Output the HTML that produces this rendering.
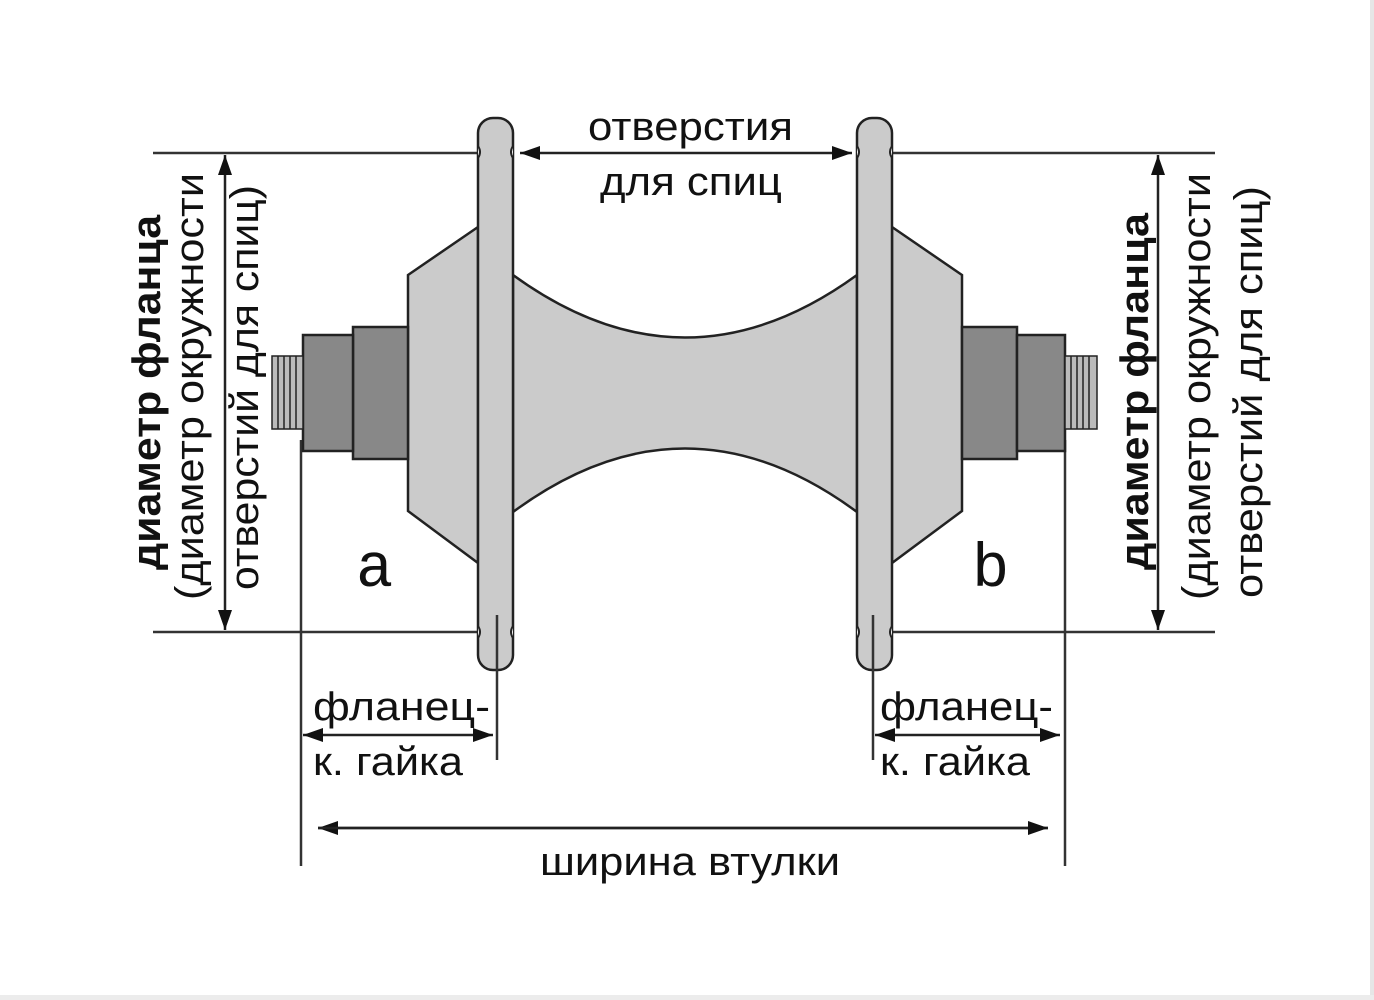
<!DOCTYPE html>
<html><head><meta charset="utf-8"><style>
html,body{margin:0;padding:0;background:#fff;}
svg{display:block;}
text{font-family:"Liberation Sans",sans-serif;fill:#111;}
</style></head><body>
<svg width="1374" height="1000" viewBox="0 0 1374 1000" xmlns="http://www.w3.org/2000/svg">
<rect x="0" y="0" width="1374" height="1000" fill="#fff"/>
<rect x="1370" y="0" width="4" height="1000" fill="#e6e6e6"/>
<rect x="0" y="995" width="1374" height="5" fill="#ececec"/>
<defs>
<marker id="ah" viewBox="0 0 20 14" refX="20" refY="7" markerWidth="20" markerHeight="14" markerUnits="userSpaceOnUse" orient="auto-start-reverse">
<path d="M0,0 L20,7 L0,14 Z" fill="#111"/>
</marker>
</defs>

<!-- extension lines -->
<g stroke="#333" stroke-width="2.5" fill="none">
<line x1="153" y1="153" x2="497" y2="153"/>
<line x1="153" y1="632" x2="497" y2="632"/>
<line x1="873" y1="153" x2="1215" y2="153"/>
<line x1="873" y1="632" x2="1215" y2="632"/>
<line x1="301" y1="440" x2="301" y2="866"/>
<line x1="1065" y1="440" x2="1065" y2="866"/>
</g>

<!-- center body -->
<path d="M513,275 Q685,400 857,275 L857,512 Q685,385 513,512 Z" fill="#cbcbcb" stroke="#222" stroke-width="2.5"/>

<!-- left cone -->
<path d="M478,227 L408,275 L408,511 L478,563 Z" fill="#cbcbcb" stroke="#222" stroke-width="2.5"/>
<!-- right cone -->
<path d="M892,227 L962,275 L962,511 L892,563 Z" fill="#cbcbcb" stroke="#222" stroke-width="2.5"/>

<!-- left nuts -->
<rect x="353" y="327" width="55" height="132" fill="#888" stroke="#222" stroke-width="2.5"/>
<rect x="303" y="335" width="50" height="116" fill="#888" stroke="#222" stroke-width="2.5"/>
<!-- right nuts -->
<rect x="962" y="327" width="55" height="132" fill="#888" stroke="#222" stroke-width="2.5"/>
<rect x="1017" y="335" width="48" height="116" fill="#888" stroke="#222" stroke-width="2.5"/>

<!-- threads -->
<g stroke="#222" stroke-width="1.5" fill="#bbb">
<rect x="272" y="356" width="31" height="73"/>
<line x1="278" y1="356" x2="278" y2="429"/><line x1="284" y1="356" x2="284" y2="429"/><line x1="290" y1="356" x2="290" y2="429"/><line x1="296" y1="356" x2="296" y2="429"/>
<rect x="1065" y="356" width="32" height="73"/>
<line x1="1071" y1="356" x2="1071" y2="429"/><line x1="1077" y1="356" x2="1077" y2="429"/><line x1="1083" y1="356" x2="1083" y2="429"/><line x1="1089" y1="356" x2="1089" y2="429"/>
</g>

<!-- flanges -->
<rect x="478" y="118" width="35" height="552" rx="15" fill="#cbcbcb" stroke="#222" stroke-width="2.5"/>
<rect x="857" y="118" width="35" height="552" rx="15" fill="#cbcbcb" stroke="#222" stroke-width="2.5"/>
<g stroke="#222" stroke-width="2" fill="#fff">
<path d="M478,146 q4,6 0,12"/><path d="M513,146 q-4,6 0,12"/>
<path d="M478,626 q4,6 0,12"/><path d="M513,626 q-4,6 0,12"/>
<path d="M857,146 q4,6 0,12"/><path d="M892,146 q-4,6 0,12"/>
<path d="M857,626 q4,6 0,12"/><path d="M892,626 q-4,6 0,12"/>
</g>
<g stroke="#333" stroke-width="2.5">
<line x1="497" y1="615" x2="497" y2="760"/>
<line x1="873" y1="615" x2="873" y2="760"/>
</g>

<!-- dimension arrows -->
<g stroke="#222" stroke-width="2.5" fill="none">
<line x1="225" y1="155" x2="225" y2="630" marker-start="url(#ah)" marker-end="url(#ah)"/>
<line x1="1158" y1="155" x2="1158" y2="630" marker-start="url(#ah)" marker-end="url(#ah)"/>
<line x1="520" y1="153" x2="852" y2="153" marker-start="url(#ah)" marker-end="url(#ah)"/>
<line x1="303" y1="735" x2="493" y2="735" marker-start="url(#ah)" marker-end="url(#ah)"/>
<line x1="875" y1="735" x2="1060" y2="735" marker-start="url(#ah)" marker-end="url(#ah)"/>
<line x1="318" y1="828" x2="1048" y2="828" marker-start="url(#ah)"/>
<line x1="318" y1="828" x2="1048" y2="828" marker-end="url(#ah)"/>
</g>

<!-- labels -->
<text x="588" y="140" font-size="40" textLength="205" lengthAdjust="spacingAndGlyphs">отверстия</text>
<text x="600" y="195" font-size="40" textLength="182" lengthAdjust="spacingAndGlyphs">для спиц</text>
<text x="313" y="720" font-size="40" textLength="177" lengthAdjust="spacingAndGlyphs">фланец-</text>
<text x="313" y="775" font-size="40" textLength="150" lengthAdjust="spacingAndGlyphs">к. гайка</text>
<text x="880" y="720" font-size="40" textLength="173" lengthAdjust="spacingAndGlyphs">фланец-</text>
<text x="880" y="775" font-size="40" textLength="150" lengthAdjust="spacingAndGlyphs">к. гайка</text>
<text x="540" y="875" font-size="40" textLength="300" lengthAdjust="spacingAndGlyphs">ширина втулки</text>
<text x="356" y="586" font-size="62" style="font-family:'Liberation Mono',monospace" fill="#333">a</text>
<text x="972" y="586" font-size="62" style="font-family:'Liberation Mono',monospace" fill="#333">b</text>

<!-- vertical labels left -->
<text transform="translate(160,570) rotate(-90)" font-size="40" font-weight="bold" textLength="355" lengthAdjust="spacingAndGlyphs">диаметр фланца</text>
<text transform="translate(203,600) rotate(-90)" font-size="40" textLength="427" lengthAdjust="spacingAndGlyphs">(диаметр окружности</text>
<text transform="translate(258,590) rotate(-90)" font-size="40" textLength="405" lengthAdjust="spacingAndGlyphs">отверстий для спиц)</text>
<!-- vertical labels right -->
<text transform="translate(1148,570) rotate(-90)" font-size="40" font-weight="bold" textLength="357" lengthAdjust="spacingAndGlyphs">диаметр фланца</text>
<text transform="translate(1210,600) rotate(-90)" font-size="40" textLength="427" lengthAdjust="spacingAndGlyphs">(диаметр окружности</text>
<text transform="translate(1262,598) rotate(-90)" font-size="40" textLength="412" lengthAdjust="spacingAndGlyphs">отверстий для спиц)</text>
</svg>
</body></html>
